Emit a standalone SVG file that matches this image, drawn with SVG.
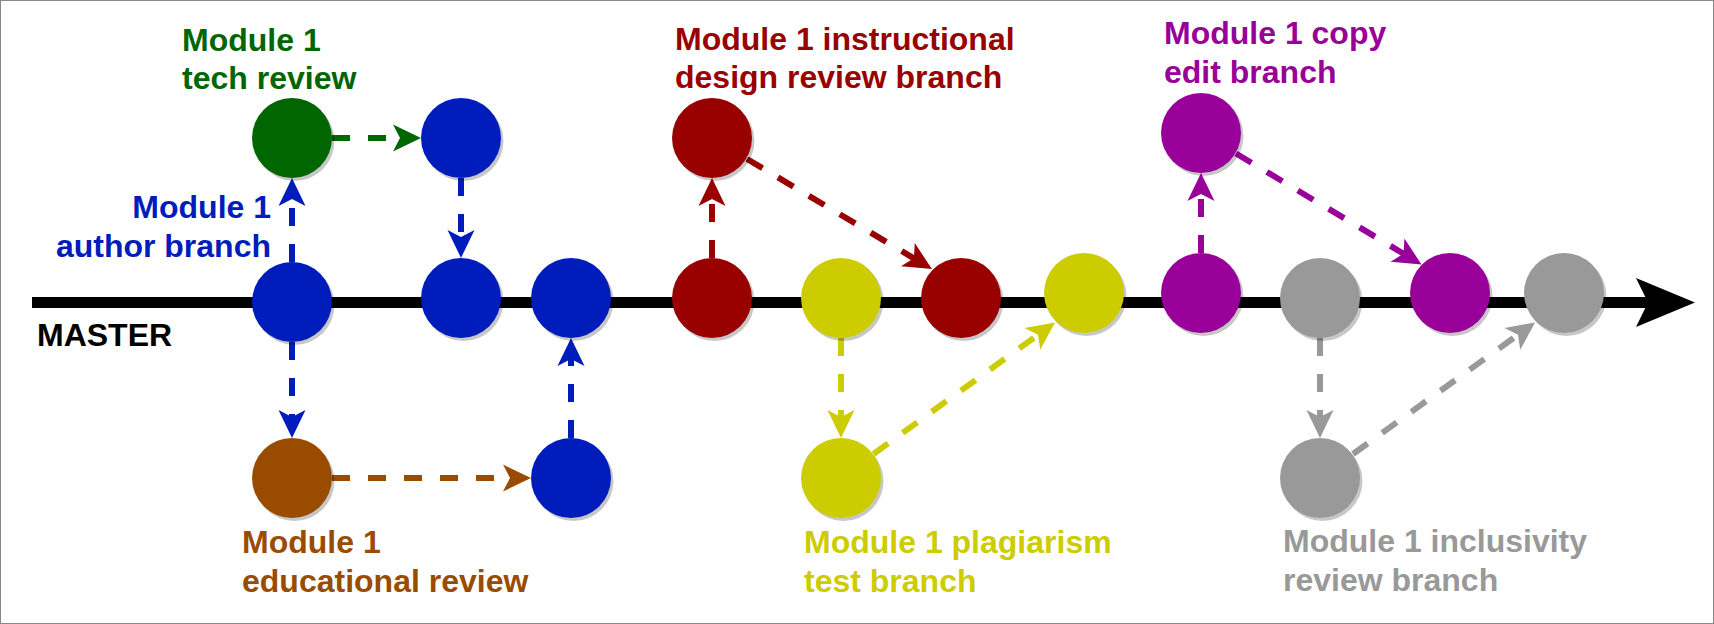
<svg xmlns="http://www.w3.org/2000/svg" width="1714" height="624" viewBox="0 0 1714 624">
<style>
.t{font-family:"Liberation Sans",Arial,sans-serif;font-weight:bold;font-size:32px}
.sh{fill:#000;opacity:0.22}
.c{fill:none;stroke-width:6;stroke-dasharray:18 18}
</style>
<defs>
<marker id="mB" markerUnits="userSpaceOnUse" orient="auto" overflow="visible" markerWidth="30" markerHeight="30" refX="0" refY="0"><path d="M21,0 L-7,-13.5 L0,0 L-7,13.5 Z" fill="#001DBC"/></marker>
<marker id="mG" markerUnits="userSpaceOnUse" orient="auto" overflow="visible" markerWidth="30" markerHeight="30" refX="0" refY="0"><path d="M21,0 L-7,-13.5 L0,0 L-7,13.5 Z" fill="#006600"/></marker>
<marker id="mBr" markerUnits="userSpaceOnUse" orient="auto" overflow="visible" markerWidth="30" markerHeight="30" refX="0" refY="0"><path d="M21,0 L-7,-13.5 L0,0 L-7,13.5 Z" fill="#994C00"/></marker>
<marker id="mR" markerUnits="userSpaceOnUse" orient="auto" overflow="visible" markerWidth="30" markerHeight="30" refX="0" refY="0"><path d="M21,0 L-7,-13.5 L0,0 L-7,13.5 Z" fill="#990000"/></marker>
<marker id="mY" markerUnits="userSpaceOnUse" orient="auto" overflow="visible" markerWidth="30" markerHeight="30" refX="0" refY="0"><path d="M21,0 L-7,-13.5 L0,0 L-7,13.5 Z" fill="#CCCC00"/></marker>
<marker id="mP" markerUnits="userSpaceOnUse" orient="auto" overflow="visible" markerWidth="30" markerHeight="30" refX="0" refY="0"><path d="M21,0 L-7,-13.5 L0,0 L-7,13.5 Z" fill="#990099"/></marker>
<marker id="mS" markerUnits="userSpaceOnUse" orient="auto" overflow="visible" markerWidth="30" markerHeight="30" refX="0" refY="0"><path d="M21,0 L-7,-13.5 L0,0 L-7,13.5 Z" fill="#999999"/></marker>
</defs>
<rect x="0.5" y="0.5" width="1713" height="623" fill="#fff" stroke="#888" stroke-width="1"/>

<g id="master">
<line x1="32" y1="302.5" x2="1648" y2="302.5" stroke="#000" stroke-width="11"/>
<path d="M1636,278 L1695,302.5 L1636,327 L1648,302.5 Z" fill="#000"/>
<text class="t" x="37" y="346" fill="#000">MASTER</text>
</g>

<g id="connectors">
<line class="c" stroke="#001DBC" x1="292" y1="262" x2="292" y2="199" marker-end="url(#mB)"/>
<line class="c" stroke="#006600" x1="332" y1="138" x2="400" y2="138" marker-end="url(#mG)"/>
<line class="c" stroke="#001DBC" x1="461" y1="178" x2="461" y2="237" marker-end="url(#mB)"/>
<line class="c" stroke="#001DBC" x1="292" y1="342" x2="292" y2="417" marker-end="url(#mB)"/>
<line class="c" stroke="#994C00" x1="332" y1="478" x2="510" y2="478" marker-end="url(#mBr)"/>
<line class="c" stroke="#001DBC" x1="571" y1="438" x2="571" y2="359" marker-end="url(#mB)"/>
<line class="c" stroke="#990000" x1="712" y1="258" x2="712" y2="199" marker-end="url(#mR)"/>
<line class="c" stroke="#990000" x1="747" y1="159" x2="913.9" y2="258.3" marker-end="url(#mR)"/>
<line class="c" stroke="#CCCC00" x1="841" y1="338" x2="841" y2="417" marker-end="url(#mY)"/>
<line class="c" stroke="#CCCC00" x1="873.5" y1="454" x2="1038" y2="334.8" marker-end="url(#mY)"/>
<line class="c" stroke="#990099" x1="1201" y1="253" x2="1201" y2="194" marker-end="url(#mP)"/>
<line class="c" stroke="#990099" x1="1236" y1="153.5" x2="1403.5" y2="253.7" marker-end="url(#mP)"/>
<line class="c" stroke="#999999" x1="1320" y1="338" x2="1320" y2="417" marker-end="url(#mS)"/>
<line class="c" stroke="#999999" x1="1353" y1="454" x2="1518" y2="334.8" marker-end="url(#mS)"/>
</g>

<g id="node-blue-master-1"><circle class="sh" cx="294.5" cy="305" r="40"/><circle cx="292" cy="302" r="40" fill="#001DBC"/></g>
<g id="node-green-tech"><circle class="sh" cx="294.5" cy="141" r="40"/><circle cx="292" cy="138" r="40" fill="#006600"/></g>
<g id="node-blue-top"><circle class="sh" cx="463.5" cy="141" r="40"/><circle cx="461" cy="138" r="40" fill="#001DBC"/></g>
<g id="node-blue-master-2"><circle class="sh" cx="463.5" cy="301" r="40"/><circle cx="461" cy="298" r="40" fill="#001DBC"/></g>
<g id="node-brown-edu"><circle class="sh" cx="294.5" cy="481" r="40"/><circle cx="292" cy="478" r="40" fill="#994C00"/></g>
<g id="node-blue-bottom"><circle class="sh" cx="573.5" cy="481" r="40"/><circle cx="571" cy="478" r="40" fill="#001DBC"/></g>
<g id="node-blue-master-3"><circle class="sh" cx="573.5" cy="301" r="40"/><circle cx="571" cy="298" r="40" fill="#001DBC"/></g>
<g id="node-red-top"><circle class="sh" cx="714.5" cy="141" r="40"/><circle cx="712" cy="138" r="40" fill="#990000"/></g>
<g id="node-red-master-1"><circle class="sh" cx="714.5" cy="301" r="40"/><circle cx="712" cy="298" r="40" fill="#990000"/></g>
<g id="node-yellow-master-1"><circle class="sh" cx="843.5" cy="301" r="40"/><circle cx="841" cy="298" r="40" fill="#CCCC00"/></g>
<g id="node-red-master-2"><circle class="sh" cx="963.5" cy="301" r="40"/><circle cx="961" cy="298" r="40" fill="#990000"/></g>
<g id="node-yellow-bottom"><circle class="sh" cx="843.5" cy="481" r="40"/><circle cx="841" cy="478" r="40" fill="#CCCC00"/></g>
<g id="node-yellow-master-2"><circle class="sh" cx="1086.5" cy="296" r="40"/><circle cx="1084" cy="293" r="40" fill="#CCCC00"/></g>
<g id="node-purple-master-1"><circle class="sh" cx="1203.5" cy="296" r="40"/><circle cx="1201" cy="293" r="40" fill="#990099"/></g>
<g id="node-purple-top"><circle class="sh" cx="1203.5" cy="136" r="40"/><circle cx="1201" cy="133" r="40" fill="#990099"/></g>
<g id="node-gray-master-1"><circle class="sh" cx="1322.5" cy="301" r="40"/><circle cx="1320" cy="298" r="40" fill="#999999"/></g>
<g id="node-purple-master-2"><circle class="sh" cx="1452.5" cy="296" r="40"/><circle cx="1450" cy="293" r="40" fill="#990099"/></g>
<g id="node-gray-master-2"><circle class="sh" cx="1566.5" cy="296" r="40"/><circle cx="1564" cy="293" r="40" fill="#999999"/></g>
<g id="node-gray-bottom"><circle class="sh" cx="1322.5" cy="481" r="40"/><circle cx="1320" cy="478" r="40" fill="#999999"/></g>

<g id="labels">
<text class="t" fill="#006600" x="182" y="51">Module 1</text>
<text class="t" fill="#006600" x="182" y="89">tech review</text>
<text class="t" fill="#001DBC" x="271" y="218" text-anchor="end">Module 1</text>
<text class="t" fill="#001DBC" x="271" y="257" text-anchor="end">author branch</text>
<text class="t" fill="#994C00" x="242" y="553">Module 1</text>
<text class="t" fill="#994C00" x="242" y="592">educational review</text>
<text class="t" fill="#990000" x="675" y="50">Module 1 instructional</text>
<text class="t" fill="#990000" x="675" y="88">design review branch</text>
<text class="t" fill="#CCCC00" x="804" y="553">Module 1 plagiarism</text>
<text class="t" fill="#CCCC00" x="804" y="592">test branch</text>
<text class="t" fill="#990099" x="1164" y="44">Module 1 copy</text>
<text class="t" fill="#990099" x="1164" y="83">edit branch</text>
<text class="t" fill="#999999" x="1283" y="552">Module 1 inclusivity</text>
<text class="t" fill="#999999" x="1283" y="591">review branch</text>
</g>
</svg>
